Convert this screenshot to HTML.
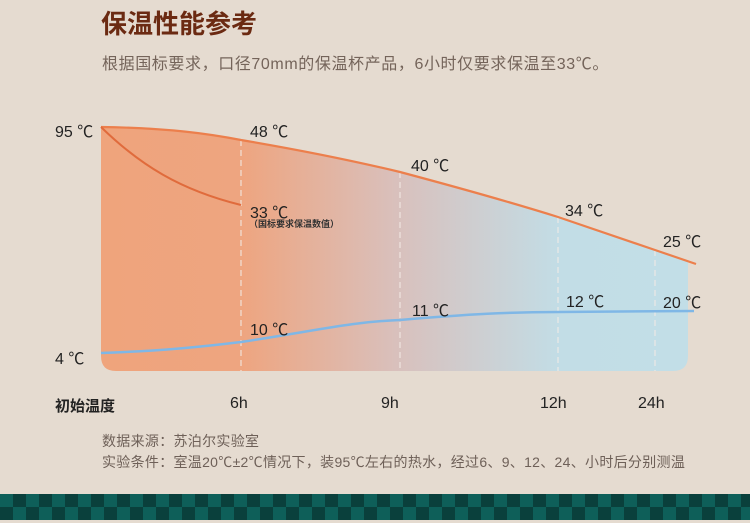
<!DOCTYPE html>
<html><head><meta charset="utf-8"><style>
body{margin:0;width:750px;height:523px;background:#e5dbd0;overflow:hidden;position:relative;font-family:"Liberation Sans","Noto Sans CJK SC",sans-serif}
.t{position:absolute;white-space:nowrap}
.v{font-size:16px;color:#222}
.band{position:absolute;left:0;top:494px;width:750px;height:26px;
background:
repeating-linear-gradient(90deg,#0e5f59 0 13px,#0a403c 13px 26px) 0 0/750px 13px no-repeat,
repeating-linear-gradient(90deg,#0a403c 0 13px,#0e5f59 13px 26px) 0 13px/750px 13px no-repeat}
</style></head><body>
<div class="t" style="left:101px;top:4px;font-size:26px;font-weight:bold;color:#6b2a12">保温性能参考</div>
<div class="t" style="left:102px;top:50px;font-size:16px;letter-spacing:0.6px;color:#74645a">根据国标要求，口径70mm的保温杯产品，6小时仅要求保温至33℃。</div>
<svg width="750" height="523" style="position:absolute;left:0;top:0">
<defs><linearGradient id="g" x1="101" x2="690" y1="0" y2="0" gradientUnits="userSpaceOnUse">
<stop offset="0" stop-color="#efa47c"/><stop offset="0.24" stop-color="#eea580"/>
<stop offset="0.5" stop-color="#d9c0bc"/><stop offset="0.78" stop-color="#c2dde6"/><stop offset="1" stop-color="#c2dee7"/></linearGradient></defs>
<path d="M101,127 C170,128 210,134 241,140 C300,150 350,160 400,172 C460,188 510,202 558,217 L655,250 L688,261 L688,356 Q688,371 673,371 L116,371 Q101,371 101,356 Z" fill="url(#g)"/>
<g stroke="#f3ece6" stroke-width="1.2" stroke-dasharray="6,4" opacity="0.85">
<line x1="241" y1="140" x2="241" y2="371"/><line x1="400" y1="172" x2="400" y2="371"/><line x1="558" y1="217" x2="558" y2="371"/><line x1="655" y1="250" x2="655" y2="371"/></g>
<path d="M101,127 C170,128 210,134 241,140 C300,150 350,160 400,172 C460,188 510,202 558,217 L655,250 L696,264" fill="none" stroke="#ec7f4c" stroke-width="2.2"/>
<path d="M101,127 C140,165 180,190 241,205" fill="none" stroke="#e06b3c" stroke-width="2"/>
<path d="M101,353 C160,351 200,347 241,342 C320,330 350,322 400,320 C470,314 510,312 558,312 L694,311" fill="none" stroke="#7fb7e6" stroke-width="2.5"/>
</svg>
<div class="t v" style="left:55px;top:118px">95 ℃</div>
<div class="t v" style="left:55px;top:345px">4 ℃</div>
<div class="t v" style="left:250px;top:118px">48 ℃</div>
<div class="t v" style="left:250px;top:199px">33 ℃</div>
<div class="t" style="left:249px;top:217px;font-size:9px;font-weight:bold;color:#333">（国标要求保温数值）</div>
<div class="t v" style="left:250px;top:316px">10 ℃</div>
<div class="t v" style="left:411px;top:152px">40 ℃</div>
<div class="t v" style="left:412px;top:297px">11 ℃</div>
<div class="t v" style="left:565px;top:197px">34 ℃</div>
<div class="t v" style="left:566px;top:288px">12 ℃</div>
<div class="t v" style="left:663px;top:228px">25 ℃</div>
<div class="t v" style="left:663px;top:289px">20 ℃</div>
<div class="t" style="left:55px;top:395px;font-size:15px;font-weight:bold;color:#222">初始温度</div>
<div class="t v" style="left:230px;top:395px">6h</div>
<div class="t v" style="left:381px;top:395px">9h</div>
<div class="t v" style="left:540px;top:395px">12h</div>
<div class="t v" style="left:638px;top:395px">24h</div>
<div class="t" style="left:102px;top:431px;font-size:14px;letter-spacing:0.3px;color:#6e6058">数据来源：苏泊尔实验室</div>
<div class="t" style="left:102px;top:452px;font-size:14px;letter-spacing:0.3px;color:#6e6058">实验条件：室温20℃±2℃情况下，装95℃左右的热水，经过6、9、12、24、小时后分别测温</div>
<div class="band"></div>
</body></html>
